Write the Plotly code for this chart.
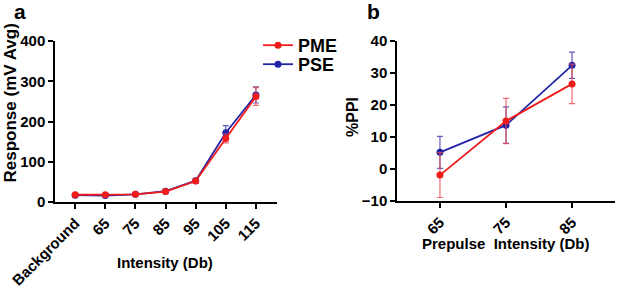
import plotly.graph_objects as go

# Panel a data
cats_a = ["Background", "65", "75", "85", "95", "105", "115"]
pme_a = [18, 18, 19, 26, 52, 158, 262]
pme_a_err = [2, 2, 2, 3, 5, 11, 22]
pse_a = [17, 16, 19, 27, 53, 172, 266]
pse_a_err = [2, 2, 2, 3, 6, 18, 20]

# Panel b data
cats_b = ["65", "75", "85"]
pme_b = [-1.9, 15.0, 26.6]
pme_b_err = [7.0, 7.1, 6.2]
pse_b = [5.2, 13.7, 32.4]
pse_b_err = [5.0, 5.7, 4.1]

RED = "#f01c1c"
BLUE = "#2323a8"
RED_E = "rgba(235,70,80,0.8)"
BLUE_E = "rgba(60,50,170,0.8)"
FONT = "Liberation Sans"

fig = go.Figure()

def add(x, y, err, color, ecolor, name, xa, ya, show, leg):
    fig.add_trace(go.Scatter(
        x=x, y=y, mode="lines+markers", name=name,
        line=dict(color=color, width=1.8),
        marker=dict(color=color, size=7),
        error_y=dict(type="data", array=err, color=ecolor, thickness=1.2, width=3),
        xaxis=xa, yaxis=ya, showlegend=show, legend=leg))

add(cats_a, pse_a, pse_a_err, BLUE, BLUE_E, "PSE", "x", "y", True, "legend2")
add(cats_a, pme_a, pme_a_err, RED, RED_E, "PME", "x", "y", True, "legend")
add(cats_b, pse_b, pse_b_err, BLUE, BLUE_E, "PSE", "x2", "y2", False, "legend2")
add(cats_b, pme_b, pme_b_err, RED, RED_E, "PME", "x2", "y2", False, "legend")

W, H = 617, 289
axis_common = dict(showline=True, linecolor="black", linewidth=1.5,
                   ticks="outside", ticklen=5, tickwidth=1.5, tickcolor="black",
                   showgrid=False, zeroline=False, automargin=False,
                   tickfont=dict(family=FONT, size=15, color="black", weight="bold"))

legend_common = dict(xanchor="left", yanchor="top", bgcolor="rgba(0,0,0,0)",
                     itemwidth=30,
                     font=dict(family=FONT, size=18, color="black", weight="bold"))

fig.update_layout(
    template="none",
    width=W, height=H, margin=dict(l=0, r=0, t=0, b=0, autoexpand=False),
    paper_bgcolor="white", plot_bgcolor="white",
    font=dict(family=FONT, color="black"),
    xaxis=dict(domain=[55/W, 277/W], type="category", range=[-0.67, 6.7],
               tickangle=-45, anchor="y", **axis_common),
    yaxis=dict(domain=[1-202/H, 1-41/H], range=[0, 400], dtick=100, anchor="x",
               **axis_common),
    xaxis2=dict(domain=[397/W, 615/W], type="category", range=[-0.65, 2.65],
                tickangle=-45, anchor="y2", **axis_common),
    yaxis2=dict(domain=[1-201/H, 1-41/H], range=[-10, 40], dtick=10, anchor="x2",
                **axis_common),
    legend=dict(x=258/W, y=1-27/H, **legend_common),
    legend2=dict(x=258/W, y=1-46/H, **legend_common),
    showlegend=True,
)

def ann(text, x, y, size, angle=0):
    fig.add_annotation(text=text, x=x/W, y=1-y/H, xref="paper", yref="paper",
                       showarrow=False, textangle=angle, xanchor="center", yanchor="middle",
                       font=dict(family=FONT, size=size, color="black", weight="bold"))

ann("a", 20, 12, 21)
ann("b", 373, 12, 21)
ann("Response (mV Avg)", 9.5, 103, 17, -90)
ann("%PPI", 352, 117, 16, -90)
ann("Intensity (Db)", 165, 262, 15)
ann("Prepulse  Intensity (Db)", 506, 244, 15)

fig.write_html("out.html", config={"displayModeBar": False},
               post_script="document.body.style.margin='0';document.body.style.padding='0';")
